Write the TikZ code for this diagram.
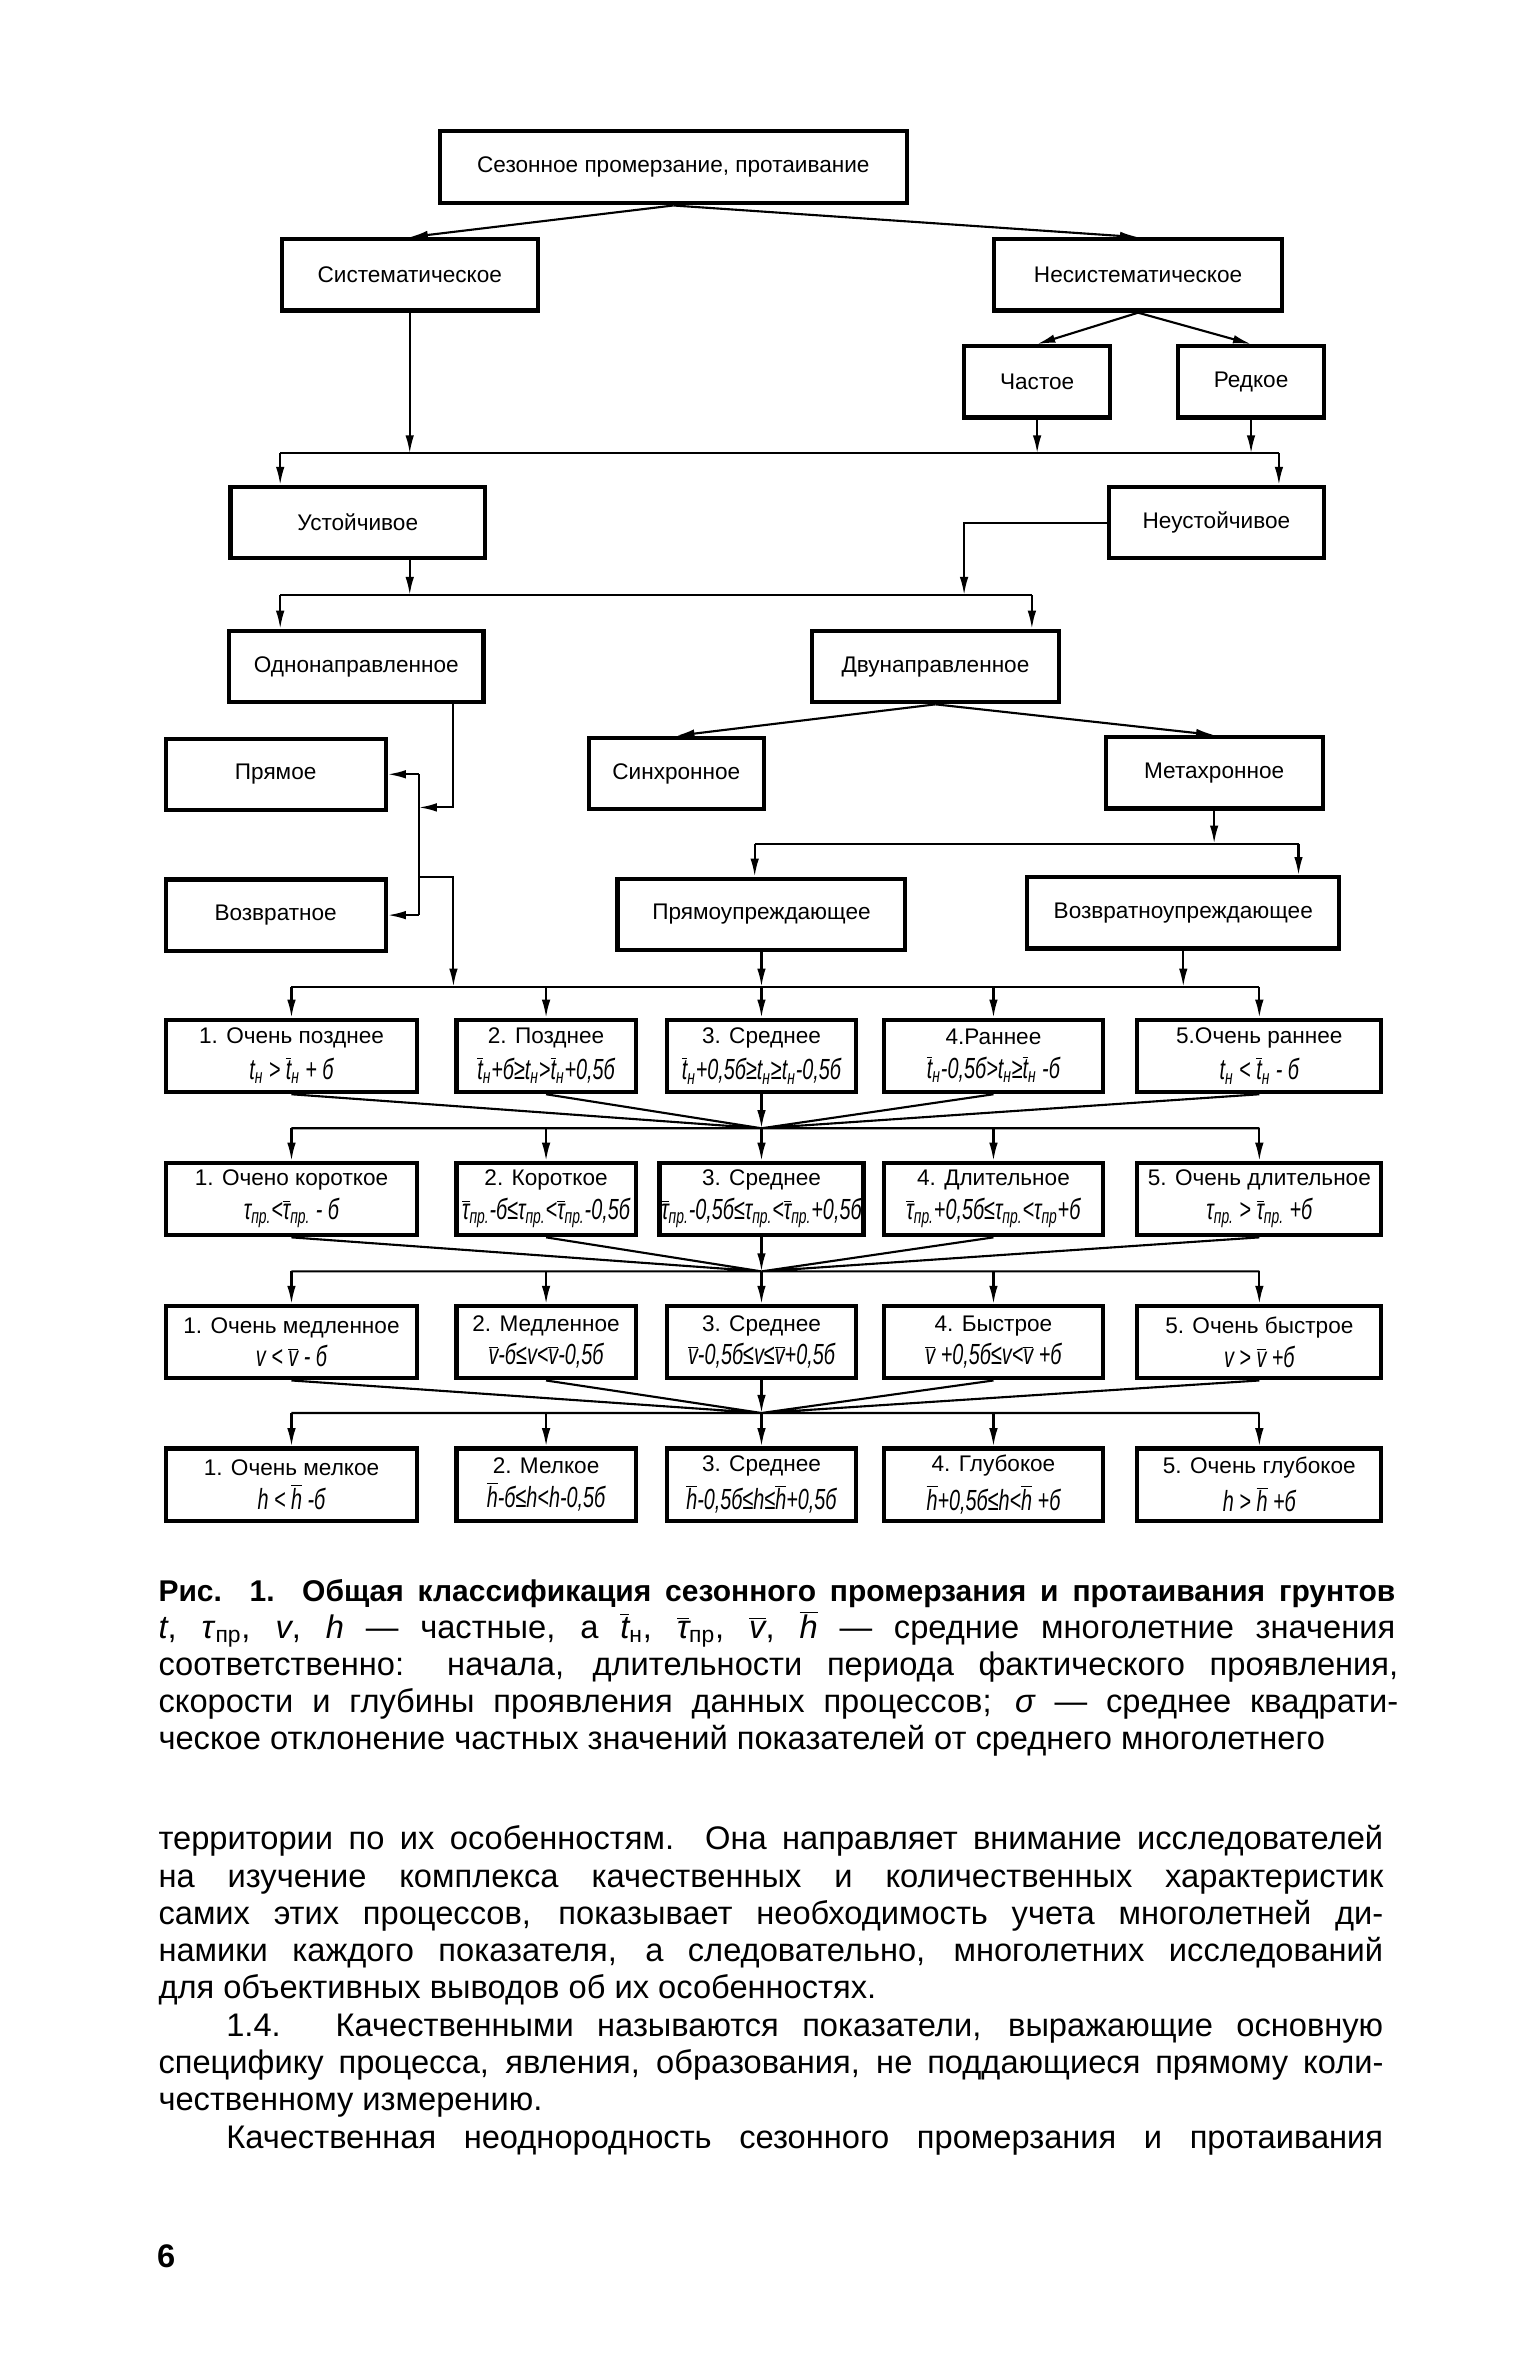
\documentclass[tikz,border=0pt]{standalone}
\usepackage{fontspec}
\setmainfont{Liberation Sans}
\newfontfamily\fmlfam[FakeStretch=0.68]{Liberation Sans}
\usetikzlibrary{arrows.meta}
\newcommand\avg[1]{$\overline{\mbox{#1}}$}
\newcommand\bxf{\fontsize{12.8}{15}\selectfont}
\newcommand\fmf{\fmlfam\itshape\fontsize{16.5}{18}\selectfont}
\newcommand\bodyf{\fontsize{18.5}{22}\selectfont}
\newcommand\jline[2]{\makebox[#1][s]{#2}}
\tikzset{
  box/.style={rectangle, draw, line width=2.4pt, inner sep=1pt, align=center, font=\bxf, minimum height=1.42cm},
  ca/.style={box, minimum width=5.01cm, minimum height=1.44cm},
  cb/.style={box, minimum width=3.57cm, minimum height=1.44cm},
  cc/.style={box, minimum width=3.75cm, minimum height=1.44cm},
  cd/.style={box, minimum width=4.35cm, minimum height=1.44cm},
  ce/.style={box, minimum width=4.86cm, minimum height=1.44cm},
  arrow/.style={-{Latex[length=3.6mm,width=1.7mm]}, line width=1.2pt},
  bus/.style={line width=1.2pt},
  txt/.style={anchor=base west, inner sep=0pt, font=\bodyf}
}
\begin{document}
\begin{tikzpicture}[x=0.03cm, y=-0.03cm]
  \useasboundingbox (0,0) rectangle (1018,1568);

  \node[box, minimum width=9.3cm, minimum height=1.44cm] (top) at (447,111) {Сезонное промерзание, протаивание};
  \node[box, minimum width=5.1cm] (sys) at (272,182.5) {Систематическое};
  \node[box, minimum width=5.73cm] (nesys) at (755.5,182.5) {Несистематическое};
  \node[box, minimum width=2.91cm] (chast) at (688.5,253.5) {Частое};
  \node[box, minimum width=2.91cm] (redk) at (830.5,253.5) {Редкое};
  \node[box, minimum width=5.07cm] (ust) at (237.5,347) {Устойчивое};
  \node[box, minimum width=4.29cm] (neust) at (807.5,347) {Неустойчивое};
  \node[box, minimum width=5.07cm] (odno) at (236.5,442.5) {Однонаправленное};
  \node[box, minimum width=4.92cm] (dvu) at (621,442.5) {Двунаправленное};
  \node[box, minimum width=4.38cm] (pryam) at (183,514) {Прямое};
  \node[box, minimum width=4.38cm] (vozv) at (183,607.5) {Возвратное};
  \node[box, minimum width=3.48cm] (sinh) at (449,513.5) {Синхронное};
  \node[box, minimum width=4.32cm] (meta) at (806,513) {Метахронное};
  \node[box, minimum width=5.73cm] (pryamu) at (505.5,607) {Прямоупреждающее};
  \node[box, minimum width=6.21cm] (vozvu) at (785.5,606) {Возвратноупреждающее};

  \node[ca] (r1a) at (193.5,701) {1. Очень позднее\\[4pt]{\fmf t\textsubscript{н} > \avg{t}\textsubscript{н} + б}};
  \node[cb] (r1b) at (362.5,701) {2. Позднее\\[4pt]{\fmf \avg{t}\textsubscript{н}+б≥t\textsubscript{н}>\avg{t}\textsubscript{н}+0,5б}};
  \node[cc] (r1c) at (505.5,701) {3. Среднее\\[4pt]{\fmf \avg{t}\textsubscript{н}+0,5б≥t\textsubscript{н}≥t\textsubscript{н}-0,5б}};
  \node[cd] (r1d) at (659.5,701) {4.Раннее\\[4pt]{\fmf \avg{t}\textsubscript{н}-0,5б>t\textsubscript{н}≥\avg{t}\textsubscript{н} -б}};
  \node[ce] (r1e) at (836,701) {5.Очень раннее\\[4pt]{\fmf t\textsubscript{н} < \avg{t}\textsubscript{н} - б}};

  \node[ca] (r2a) at (193.5,796) {1. Очено короткое\\[4pt]{\fmf τ\textsubscript{пр.}<\avg{τ}\textsubscript{пр.} - б}};
  \node[cb] (r2b) at (362.5,796) {2. Короткое\\[4pt]{\fmf \avg{τ}\textsubscript{пр.}-б≤τ\textsubscript{пр.}<\avg{τ}\textsubscript{пр.}-0,5б}};
  \node[cc] (r2c) at (505.5,796) {3. Среднее\\[4pt]{\fmf \avg{τ}\textsubscript{пр.}-0,5б≤τ\textsubscript{пр.}<\avg{τ}\textsubscript{пр.}+0,5б}};
  \node[cd] (r2d) at (659.5,796) {4. Длительное\\[4pt]{\fmf \avg{τ}\textsubscript{пр.}+0,5б≤τ\textsubscript{пр.}<τ\textsubscript{пр}+б}};
  \node[ce] (r2e) at (836,796) {5. Очень длительное\\[4pt]{\fmf τ\textsubscript{пр.} > \avg{τ}\textsubscript{пр.} +б}};

  \node[ca] (r3a) at (193.5,891) {1. Очень медленное\\[4pt]{\fmf v < \avg{v} - б}};
  \node[cb] (r3b) at (362.5,891) {2. Медленное\\[4pt]{\fmf \avg{v}-б≤v<\avg{v}-0,5б}};
  \node[cc] (r3c) at (505.5,891) {3. Среднее\\[4pt]{\fmf \avg{v}-0,5б≤v≤\avg{v}+0,5б}};
  \node[cd] (r3d) at (659.5,891) {4. Быстрое\\[4pt]{\fmf \avg{v} +0,5б≤v<\avg{v} +б}};
  \node[ce] (r3e) at (836,891) {5. Очень быстрое\\[4pt]{\fmf v > \avg{v} +б}};

  \node[ca] (r4a) at (193.5,985.5) {1. Очень мелкое\\[4pt]{\fmf h < \avg{h} -б}};
  \node[cb] (r4b) at (362.5,985.5) {2. Мелкое\\[4pt]{\fmf \avg{h}-б≤h<h-0,5б}};
  \node[cc] (r4c) at (505.5,985.5) {3. Среднее\\[4pt]{\fmf \avg{h}-0,5б≤h≤\avg{h}+0,5б}};
  \node[cd] (r4d) at (659.5,985.5) {4. Глубокое\\[4pt]{\fmf \avg{h}+0,5б≤h<\avg{h} +б}};
  \node[ce] (r4e) at (836,985.5) {5. Очень глубокое\\[4pt]{\fmf h > \avg{h} +б}};

  \coordinate (b1l) at (186,301);
  \coordinate (b1r) at (849,301);
  \coordinate (b2l) at (186,395);
  \coordinate (b2n) at (640,395);
  \coordinate (b2r) at (685,395);
  \coordinate (b3l) at (501,560);
  \coordinate (b3r) at (862,560);
  \coordinate (jv) at (278,536);
  \coordinate (ov) at (301,536);
  \coordinate (b4) at (301,655);
  \coordinate (m1) at (505.5,749);
  \coordinate (m2) at (505.5,844);
  \coordinate (m3) at (505.5,938);

  \draw[arrow] (top.south) -- (sys.north);
  \draw[arrow] (top.south) -- (nesys.north);
  \draw[arrow] (nesys.south) -- (chast.north);
  \draw[arrow] (nesys.south) -- (redk.north);
  \draw[arrow] (sys) -- (sys |- b1l);
  \draw[arrow] (chast) -- (chast |- b1l);
  \draw[arrow] (redk) -- (redk |- b1l);
  \draw[bus] (b1l) -- (b1r);
  \draw[arrow] (b1l) -- (b1l |- ust.north);
  \draw[arrow] (b1r) -- (b1r |- neust.north);
  \draw[arrow] (ust.south -| sys) -- (sys |- b2l);
  \draw[arrow] (neust.west) -| (b2n);
  \draw[bus] (b2l) -- (b2r);
  \draw[arrow] (b2l) -- (b2l |- odno.north);
  \draw[arrow] (b2r) -- (b2r |- dvu.north);
  \draw[arrow] (dvu.south) -- (sinh.north);
  \draw[arrow] (dvu.south) -- (meta.north);
  \draw[arrow] (meta) -- (meta |- b3l);
  \draw[bus] (b3l) -- (b3r);
  \draw[arrow] (b3l) -- (b3l |- pryamu.north);
  \draw[arrow] (b3r) -- (b3r |- vozvu.north);
  \draw[arrow] (odno.south -| ov) -- (ov) -- (jv);
  \draw[bus] (jv |- pryam.east) -- (jv |- vozv.east);
  \draw[arrow] (jv |- pryam.east) -- (pryam.east);
  \draw[arrow] (jv |- vozv.east) -- (vozv.east);
  \draw[arrow] (jv |- vozv.north) -| (b4);
  \draw[arrow] (pryamu) -- (pryamu |- b4);
  \draw[arrow] (vozvu) -- (vozvu |- b4);
  \draw[bus] (r1a.north |- b4) -- (r1e.north |- b4);
  \draw[arrow] (r1a.north |- b4) -- (r1a.north);
  \draw[arrow] (r1b.north |- b4) -- (r1b.north);
  \draw[arrow] (r1c.north |- b4) -- (r1c.north);
  \draw[arrow] (r1d.north |- b4) -- (r1d.north);
  \draw[arrow] (r1e.north |- b4) -- (r1e.north);

  \draw[bus] (r1a.south) -- (m1) (r1b.south) -- (m1) (r1d.south) -- (m1) (r1e.south) -- (m1) (r2a.north |- m1) -- (r2e.north |- m1);
  \draw[arrow] (r1c) -- (m1);
  \draw[arrow] (r2a.north |- m1) -- (r2a.north);
  \draw[arrow] (r2b.north |- m1) -- (r2b.north);
  \draw[arrow] (r2c.north |- m1) -- (r2c.north);
  \draw[arrow] (r2d.north |- m1) -- (r2d.north);
  \draw[arrow] (r2e.north |- m1) -- (r2e.north);

  \draw[bus] (r2a.south) -- (m2) (r2b.south) -- (m2) (r2d.south) -- (m2) (r2e.south) -- (m2) (r3a.north |- m2) -- (r3e.north |- m2);
  \draw[arrow] (r2c) -- (m2);
  \draw[arrow] (r3a.north |- m2) -- (r3a.north);
  \draw[arrow] (r3b.north |- m2) -- (r3b.north);
  \draw[arrow] (r3c.north |- m2) -- (r3c.north);
  \draw[arrow] (r3d.north |- m2) -- (r3d.north);
  \draw[arrow] (r3e.north |- m2) -- (r3e.north);

  \draw[bus] (r3a.south) -- (m3) (r3b.south) -- (m3) (r3d.south) -- (m3) (r3e.south) -- (m3) (r4a.north |- m3) -- (r4e.north |- m3);
  \draw[arrow] (r3c) -- (m3);
  \draw[arrow] (r4a.north |- m3) -- (r4a.north);
  \draw[arrow] (r4b.north |- m3) -- (r4b.north);
  \draw[arrow] (r4c.north |- m3) -- (r4c.north);
  \draw[arrow] (r4d.north |- m3) -- (r4d.north);
  \draw[arrow] (r4e.north |- m3) -- (r4e.north);

  \node[txt, font=\bfseries\fontsize{17}{20}\selectfont] (cap1) at (105,1063) {\jline{24.63cm}{Рис. 1. Общая классификация сезонного промерзания и протаивания грунтов}};
  \node[txt] (cap2) at (105,1087.6) {\jline{24.63cm}{\textit{t}, \textit{τ}\textsubscript{пр}, \textit{v}, \textit{h} — частные, а \textit{\avg{t}}\textsubscript{н}, \textit{\avg{τ}}\textsubscript{пр}, \textit{\avg{v}}, \textit{\avg{h}} — средние многолетние значения}};
  \node[txt] (cap3) at (105,1112.2) {\jline{24.69cm}{соответственно: начала, длительности периода фактического проявления,}};
  \node[txt] (cap4) at (105,1136.8) {\jline{24.69cm}{скорости и глубины проявления данных процессов; \textit{σ} — среднее квадрати-}};
  \node[txt] (cap5) at (105,1161.4) {ческое отклонение частных значений показателей от среднего многолетнего};

  \node[txt] (txt1) at (105,1228) {\jline{24.39cm}{территории по их особенностям. Она направляет внимание исследователей}};
  \node[txt] (txt2) at (105,1252.75) {\jline{24.39cm}{на изучение комплекса качественных и количественных характеристик}};
  \node[txt] (txt3) at (105,1277.5) {\jline{24.39cm}{самих этих процессов, показывает необходимость учета многолетней ди-}};
  \node[txt] (txt4) at (105,1302.25) {\jline{24.39cm}{намики каждого показателя, а следовательно, многолетних исследований}};
  \node[txt] (txt5) at (105,1327) {для объективных выводов об их особенностях.};
  \node[txt] (txt6) at (150,1351.75) {\jline{23.04cm}{1.4. Качественными называются показатели, выражающие основную}};
  \node[txt] (txt7) at (105,1376.5) {\jline{24.39cm}{специфику процесса, явления, образования, не поддающиеся прямому коли-}};
  \node[txt] (txt8) at (105,1401.25) {чественному измерению.};
  \node[txt] (txt9) at (150,1426) {\jline{23.04cm}{Качественная неоднородность сезонного промерзания и протаивания}};
  \node[txt, font=\bfseries\fontsize{18.5}{22}\selectfont] (pnum) at (104,1505) {6};
\end{tikzpicture}
\end{document}
